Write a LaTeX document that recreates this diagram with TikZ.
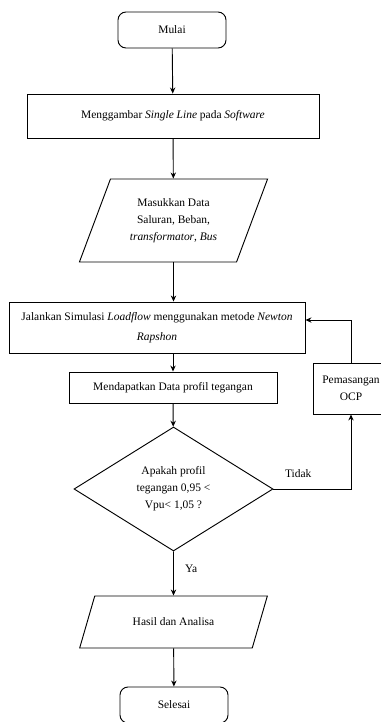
\documentclass[tikz,border=0pt]{standalone}
\usepackage{fontspec}
\setmainfont{Liberation Serif}
\usetikzlibrary{positioning,arrows.meta,shapes.geometric}

\begin{document}
\begin{tikzpicture}[x=0.75pt,y=-0.75pt,
  font=\fontsize{8.6pt}{12.75pt}\selectfont,
  line width=0.7pt,
  every node/.style={align=center},
  flowline/.style={-{Stealth[length=4.5pt,width=4pt]}},
  terminal/.style={draw,rounded corners=6pt,minimum width=81pt,minimum height=27pt,inner sep=2pt},
  process/.style={draw,inner sep=2pt},
  iobox/.style={draw,trapezium,trapezium stretches=true,inner sep=1pt},
  decision/.style={draw,diamond,inner sep=0pt}]
  % page frame
  \useasboundingbox (0,0) rectangle (380,722);
  % main column
  \node[terminal] (start) at (172,30) {Mulai};
  \node[process,minimum width=219pt,minimum height=33pt] (sld) at (173,116) {Menggambar \textit{Single Line} pada \textit{Software}};
  \node[iobox,trapezium left angle=64.8,trapezium right angle=115.2,minimum width=141.75pt,minimum height=62.25pt] (input) at (173.5,220.5) {Masukkan Data\\Saluran, Beban,\\\textit{transformator}, \textit{Bus}};
  \node[process,minimum width=222pt,minimum height=38.25pt,font=\fontsize{8.6pt}{15pt}\selectfont] (sim) at (157,327.5) {Jalankan Simulasi \textit{Loadflow} menggunakan metode \textit{Newton}\\\textit{Rapshon}};
  \node[process,minimum width=156pt,minimum height=23.25pt] (data) at (173,387.5) {Mendapatkan Data profil tegangan};
  \node[decision,minimum width=149.25pt,minimum height=93pt] (check) at (173.5,489) {Apakah profil\\tegangan 0,95 <\\Vpu< 1,05 ?};
  \node[iobox,trapezium left angle=53.1,trapezium right angle=126.9,minimum width=141.75pt,minimum height=39pt] (result) at (173.5,622) {Hasil dan Analisa};
  \node[terminal] (stop) at (174,705) {Selesai};
  % side branch
  \node[process,minimum width=57pt,minimum height=38.25pt] (ocp) at (351,388.5) {Pemasangan\\OCP};
  % arrows
  \draw[flowline] (start) -- (sld);
  \draw[flowline] (sld) -- (input);
  \draw[flowline] (input.south) -- (input.south |- sim.north);
  \draw[flowline] (data.north |- sim.south) -- (data.north);
  \draw[flowline] (data) -- (check);
  \draw[flowline] (check) -- node[pos=0.4,right=5pt] {Ya} (result);
  \draw[flowline] (result) -- (stop);
  \draw[flowline] (check.east) -| node[pos=0.16,above=5pt] {Tidak} (ocp.south);
  \draw[flowline] (ocp.north) |- ([yshift=5.6pt]sim.east);
\end{tikzpicture}
\end{document}
